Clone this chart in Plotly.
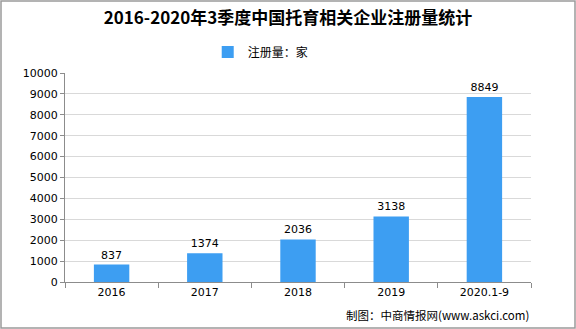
import plotly.graph_objects as go

categories = ["2016", "2017", "2018", "2019", "2020.1-9"]
values = [837, 1374, 2036, 3138, 8849]
series_name = "注册量：家"
title_text = "2016-2020年3季度中国托育相关企业注册量统计"
source_text = "制图：中商情报网(www.askci.com)"
ytick_vals = list(range(0, 10001, 1000))
ytick_text = [str(v) for v in ytick_vals]

fig = go.Figure()
fig.add_trace(go.Bar(
    x=categories, y=values, name=series_name,
    marker=dict(color="#3d9ef2", line=dict(width=0)),
    width=0.38,
    text=[str(v) for v in values], textposition="outside",
    textfont=dict(size=11, color="#000000", family="DejaVu Sans"),
    cliponaxis=False,
))

fig.update_layout(
    width=576, height=329,
    margin=dict(l=65, r=45, t=73, b=47),
    paper_bgcolor="white", plot_bgcolor="white",
    title=dict(text="<b>" + title_text + "</b>", x=0.5, xanchor="center", y=0.945, yanchor="middle",
               font=dict(size=17, color="#000000", family="Noto Sans CJK SC")),
    showlegend=True,
    legend=dict(orientation="h", x=0.42, xanchor="center", y=1.10, yanchor="middle",
                font=dict(size=12, color="#000000", family="Noto Sans CJK SC"),
                itemwidth=30),
    font=dict(family="DejaVu Sans", size=11, color="#000000"),
    bargap=0.6,
)
fig.update_yaxes(range=[0, 10000], tickvals=ytick_vals, ticktext=ytick_text, showgrid=True, gridcolor="#d9d9d9", gridwidth=1,
                 showline=True, linecolor="#8c8c8c", linewidth=1, ticks="outside", ticklen=4,
                 tickcolor="#8c8c8c", zeroline=False, tickfont=dict(size=11, family="DejaVu Sans"))
fig.update_xaxes(showline=True, linecolor="#8c8c8c", linewidth=1, ticks="outside", ticklen=5,
                 tickcolor="#8c8c8c", tickson="boundaries", tickfont=dict(size=11, family="DejaVu Sans"))

fig.add_annotation(text=source_text, xref="paper", yref="paper", x=1.0, y=-0.16, xanchor="right", yanchor="middle",
                   showarrow=False, font=dict(size=11.5, color="#000000", family="Noto Sans CJK SC"))
fig.add_shape(type="rect", xref="paper", yref="paper", x0=-64/466, x1=1+44/466, y0=-46/209, y1=1+72/209,
              line=dict(color="#9a9a9a", width=1.5), fillcolor="rgba(0,0,0,0)")

fig.write_html("out.html")
